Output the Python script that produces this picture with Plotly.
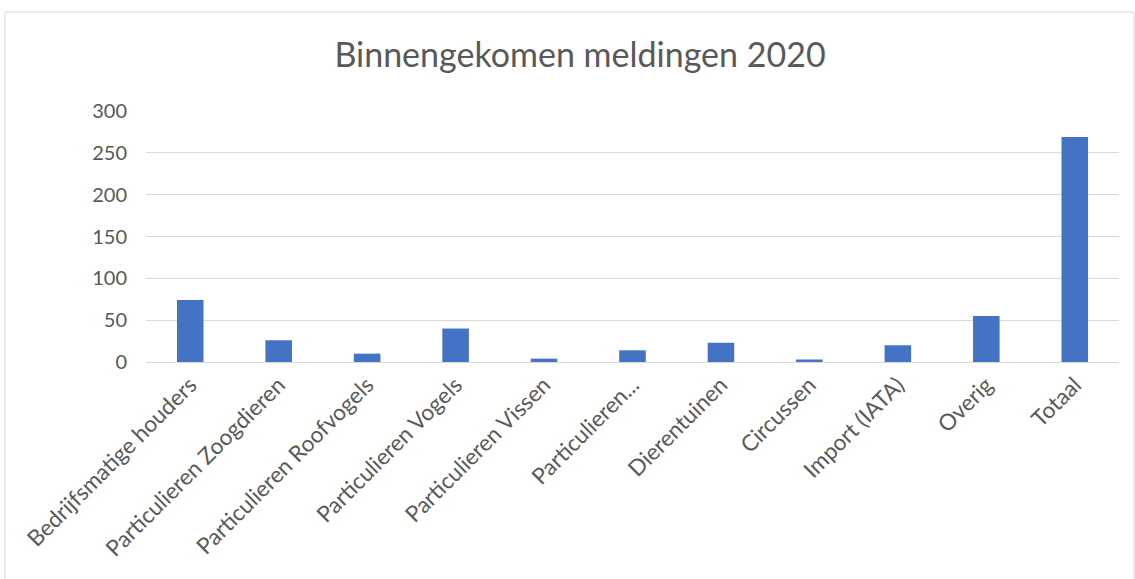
import plotly.graph_objects as go

categories = ["Bedrijfsmatige houders", "Particulieren Zoogdieren", "Particulieren Roofvogels",
              "Particulieren Vogels", "Particulieren Vissen", "Particulieren...", "Dierentuinen",
              "Circussen", "Import (IATA)", "Overig", "Totaal"]
values = [74, 26, 10, 40, 4, 14, 23, 3, 20, 55, 269]
y_ticks = [0, 50, 100, 150, 200, 250, 300]

W, H = 1135, 579
L, R, T, B = 146, 16, 111, 217
pw = W - L - R
ph = H - T - B

fig = go.Figure(go.Bar(x=categories, y=values, marker=dict(color="#4472C4", line=dict(width=0))))

def px_to_paper_x(px):
    return (px - L) / pw

def px_to_paper_y(py):
    return (H - B - py) / ph

fig.update_layout(
    width=W, height=H,
    margin=dict(l=L, r=R, t=T, b=B, autoexpand=False),
    paper_bgcolor="white", plot_bgcolor="white",
    bargap=0.7,
    showlegend=False,
    font=dict(family="Lato, Open Sans, sans-serif", color="#595959", size=20),
    title=dict(text="Binnengekomen meldingen 2020", x=580 / W, xref="container", xanchor="center",
               y=1 - 55 / H, yanchor="middle",
               font=dict(size=34, color="#595959", family="Lato, Open Sans, sans-serif")),
    xaxis=dict(tickangle=-45, showgrid=False, showline=True, linecolor="#d9d9d9", linewidth=1,
               ticks="", tickfont=dict(size=22.5, color="#595959"), automargin=False),
    yaxis=dict(range=[0, 300], tickvals=y_ticks, showgrid=True, gridcolor="#d9d9d9", gridwidth=1,
               zeroline=False, showline=False, ticks="", tickfont=dict(size=20, color="#595959"),
               automargin=False, ticklabelstandoff=18),
    shapes=[dict(type="rect", xref="paper", yref="paper",
                 x0=px_to_paper_x(5), x1=px_to_paper_x(1134),
                 y0=px_to_paper_y(590), y1=px_to_paper_y(12),
                 line=dict(color="#d9d9d9", width=1), fillcolor="rgba(0,0,0,0)", layer="below")],
)

fig.write_html("out.html", config={"displayModeBar": False},
               post_script="document.body.style.margin='0';document.body.style.overflow='hidden';")
